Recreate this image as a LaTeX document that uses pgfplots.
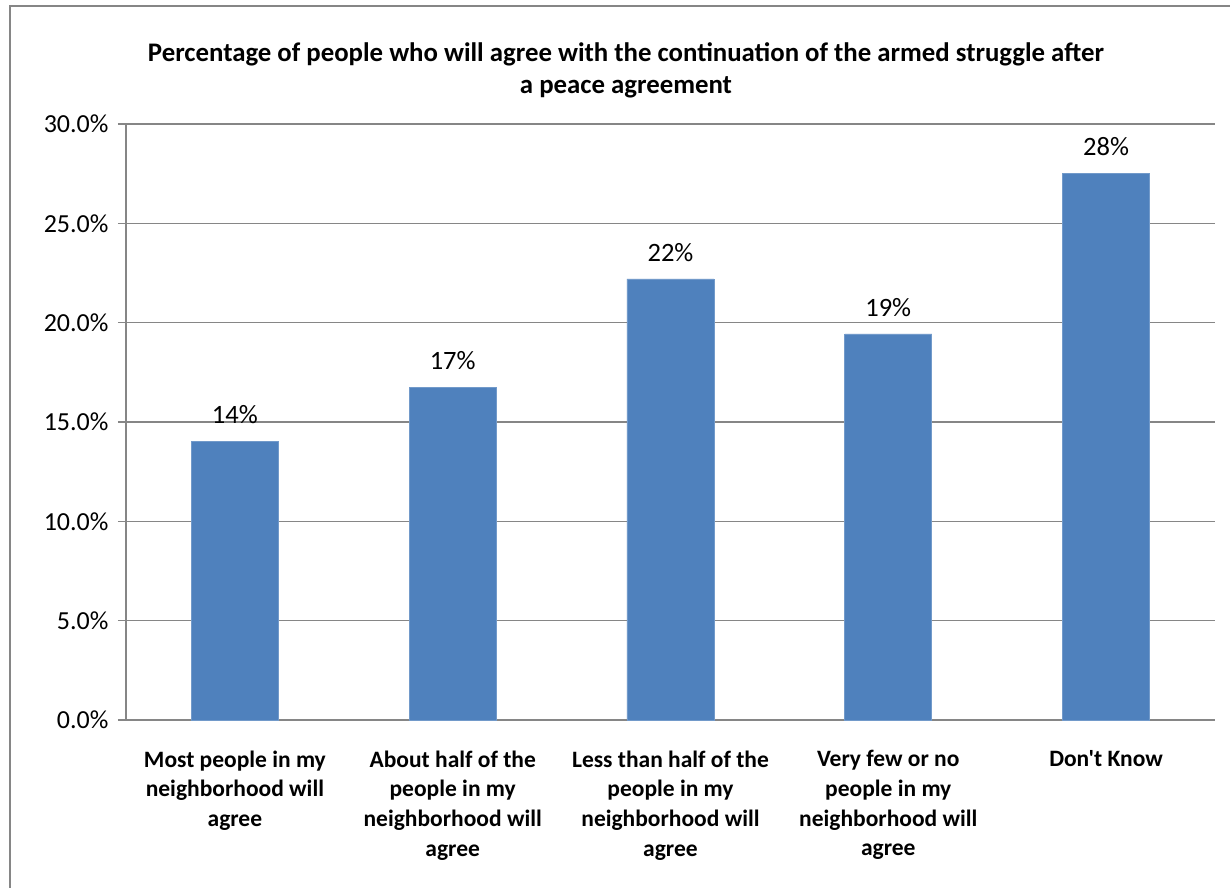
\documentclass[border=0pt]{standalone}
\usepackage{fontspec}
\setmainfont{Carlito}[Ligatures=TeXOff]
\usepackage{pgfplots}
\pgfplotsset{compat=1.18}
\definecolor{barblue}{HTML}{4F81BD}
\definecolor{gridgray}{HTML}{868686}
\begin{document}
\begin{tikzpicture}
\useasboundingbox (-126pt,-167pt) rectangle (1104pt,720pt);
\draw[gridgray,line width=1.5pt] (-116pt,-170pt) -- (-116pt,714pt) -- (1110pt,714pt);
\begin{axis}[
  at={(0pt,0pt)}, anchor=south west,
  scale only axis, width=1089pt, height=596pt,
  xmin=-0.5, xmax=4.5, ymin=0, ymax=30,
  ytick={0,5,...,30},
  yticklabel={\pgfmathprintnumber[fixed,fixed zerofill,precision=1]{\tick}\%},
  /pgf/number format/assume math mode=true,
  yticklabel style={font=\fontsize{26}{31}\selectfont, xshift=-6pt},
  ymajorgrids, grid style={gridgray, line width=1.3pt},
  axis line style={gridgray, line width=1.3pt},
  axis x line*=bottom, axis y line*=left,
  y axis line style={-}, x axis line style={-},
  xtick={0,1,2,3,4},
  xticklabels={{Most people in my\\neighborhood will\\agree}, {About half of the\\people in my\\neighborhood will\\agree}, {Less than half of the\\people in my\\neighborhood will\\agree}, {Very few or no\\people in my\\neighborhood will\\agree}, {Don't Know}},
  xticklabel style={font=\bfseries\fontsize{23.5}{29.7}\selectfont, align=center, anchor=north, yshift=-19pt},
  x tick style={draw=none},
  extra x ticks={-0.5,0.5,1.5,2.5,3.5,4.5},
  extra x tick labels={},
  extra x tick style={grid=none, major tick length=8pt, tick style={gridgray, line width=1.3pt, draw=gridgray}, tickpos=left, xtick align=outside},
  y tick style={gridgray, line width=1.3pt},
  major tick length=8pt,
  tick align=outside,
  ybar, bar width=87pt,
  nodes near coords={\pgfmathprintnumber[fixed,precision=0]{\pgfplotspointmeta}\%},
  every node near coord/.append style={font=\fontsize{26.5}{31}\selectfont, black, yshift=14pt},
  clip=false,
]
\addplot[fill=barblue, draw=barblue!80!white, line width=0.8pt] coordinates {(0,14.04) (1,16.72) (2,22.2) (3,19.43) (4,27.52)};
\end{axis}
\node[font=\bfseries\fontsize{26.8}{32}\selectfont, align=center] at (500pt,650pt) {Percentage of people who will agree with the continuation of the armed struggle after\\a peace agreement};
\end{tikzpicture}
\end{document}
